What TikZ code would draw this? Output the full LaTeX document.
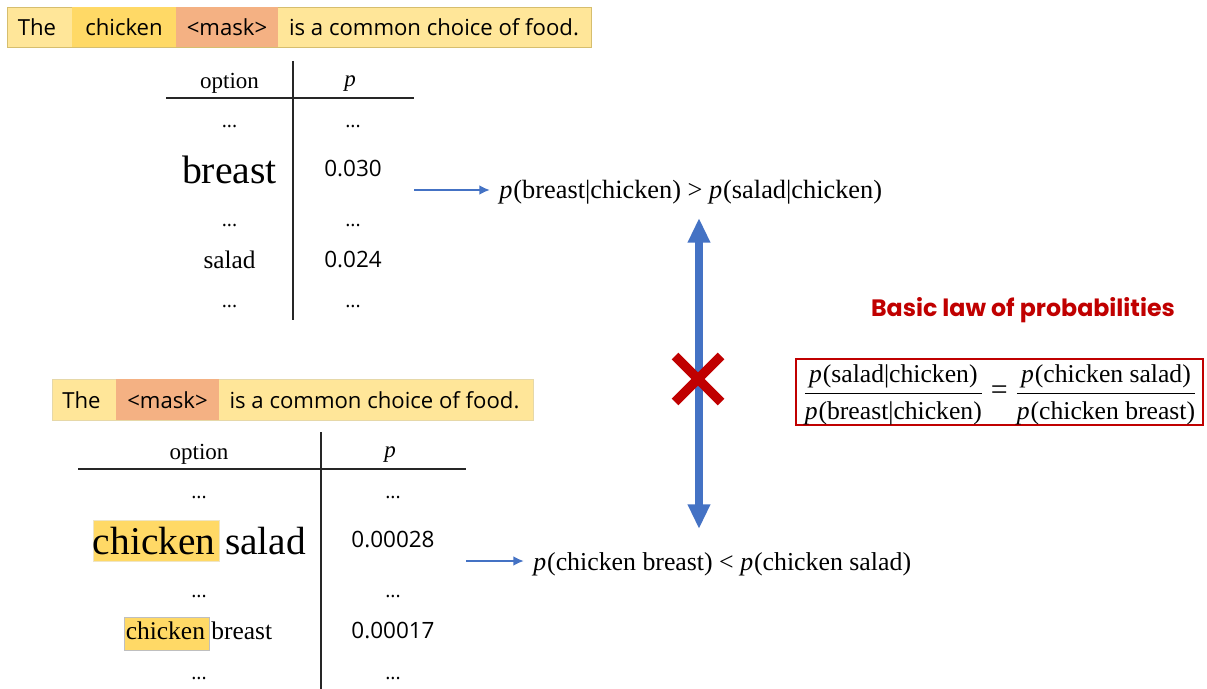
\documentclass[tikz,border=0pt]{standalone}
\usepackage{amsmath}
\usepackage{fontspec}
\setmainfont{Liberation Serif}
\newfontfamily\uifont{Open Sans}
\newfontfamily\lawfont{Poppins}
\usetikzlibrary{arrows.meta}
\definecolor{barlight}{HTML}{FFE699}
\definecolor{baredge}{HTML}{D6BE6E}
\definecolor{chickenfill}{HTML}{FFD966}
\definecolor{maskfill}{HTML}{F4B183}
\definecolor{arrowblue}{HTML}{4472C4}
\definecolor{lawred}{HTML}{C00000}
\newcommand{\psize}[1]{\fontsize{#1}{#1}\selectfont}
\newcommand{\pp}{\textit{p}\kern0.5pt}
\newcommand{\lawfrac}[2]{\genfrac{}{}{0.8pt}{0}{\mbox{#1}}{\mbox{\rule{0pt}{12pt}#2}}}
\tikzset{
  ui/.style={font=\uifont\psize{12.6},inner sep=0pt,text height=9.5pt,text depth=0pt},
  val/.style={font=\uifont\psize{12.8},inner sep=0pt,text height=9.5pt,text depth=0pt},
  opt/.style={font=\psize{#1},inner sep=0pt},
  dots/.style={font=\uifont\psize{11},inner sep=0pt},
  rule/.style={line width=0.75pt,black!85},
  seg/.style={fill=#1,inner sep=0pt,anchor=north west},
  thin arrow/.style={-{Latex[length=6pt,width=5.5pt]},line width=1.4pt,arrowblue},
  prob/.style={font=\psize{#1},inner sep=0pt,anchor=west}
}
\begin{document}
\begin{tikzpicture}[x=0.02cm,y=-0.02cm]
  \useasboundingbox (0,0) rectangle (1207,689);

  % first sentence
  \node (barA) [seg=barlight,draw=baredge,line width=0.5pt,minimum width=11.68cm,minimum height=0.8cm] at (7,7) {};
  \node (chickA) [seg=chickenfill,minimum width=2.08cm,minimum height=0.8cm] at (72,7) {};
  \node (maskA) [seg=maskfill,minimum width=2.04cm,minimum height=0.8cm] at (176,7) {};
  \node (theA) [ui] at (37,27) {The};
  \node (wordA) [ui] at (124,27) {chicken};
  \node (tokA) [ui] at (227,27) {<mask>};
  \node (restA) [ui] at (434,27) {is a common choice of food.};

  % first table
  \draw[rule] (293,61) -- (293,320);
  \draw[rule] (166,98) -- (414,98);
  \node (optA) [opt=13.1] at (229.5,83.5) {option};
  \node (pA) [opt=13.1] at (350.5,84) {\pp};
  \node (dotsA1) [dots] at (229.5,126) {...};
  \node (dotsB1) [dots] at (353,126) {...};
  \node (breastA) [opt=22.6] at (229.5,170) {breast};
  \node (valA1) [val] at (353,168) {0.030};
  \node (dotsA2) [dots] at (229.5,225) {...};
  \node (dotsB2) [dots] at (353,225) {...};
  \node (saladA) [opt=14.4] at (229.5,260) {salad};
  \node (valA2) [val] at (353,259) {0.024};
  \node (dotsA3) [dots] at (229.5,306) {...};
  \node (dotsB3) [dots] at (353,306) {...};

  \coordinate (startA) at (414,190);
  \node (probA) [prob=15] at (499,192) {\pp(breast|chicken) > \pp(salad|chicken)};
  \draw[thin arrow] (startA) -- (490,190);

  % second sentence
  \node (barB) [seg=barlight,draw=baredge!60,line width=0.5pt,minimum width=9.62cm,minimum height=0.82cm] at (52,379) {};
  \node (maskB) [seg=maskfill,minimum width=2.06cm,minimum height=0.82cm] at (116,379) {};
  \node (theB) [ui] at (81.5,400) {The};
  \node (tokB) [ui] at (167.5,400) {<mask>};
  \node (restB) [ui] at (374.5,400) {is a common choice of food.};

  % second table
  \draw[rule] (321,432) -- (321,689);
  \draw[rule] (78,469) -- (466,469);
  \node (optB) [opt=13.1] at (199,454.5) {option};
  \node (pB) [opt=13.1] at (390.5,455) {\pp};
  \node (dotsC1) [dots] at (199,497) {...};
  \node (dotsD1) [dots] at (393,497) {...};
  \node (hlBig) [seg=chickenfill,draw=baredge!40,line width=0.4pt,minimum width=2.52cm,minimum height=0.82cm] at (93,520) {};
  \node (hlSmall) [seg=chickenfill,draw=black!25,line width=0.4pt,minimum width=1.7cm,minimum height=0.66cm] at (124,617) {};
  \node (bigPair) [opt=22.4] at (199.5,541) {chicken salad};
  \node (valB1) [val] at (393,539) {0.00028};
  \node (dotsC2) [dots] at (199,596) {...};
  \node (dotsD2) [dots] at (393,596) {...};
  \node (smallPair) [opt=14.5] at (199,631) {chicken breast};
  \node (valB2) [val] at (393,630) {0.00017};
  \node (dotsC3) [dots] at (199,678) {...};
  \node (dotsD3) [dots] at (393,678) {...};

  \coordinate (startB) at (466,561);
  \node (probB) [prob=14.7] at (533,564) {\pp(chicken breast) < \pp(chicken salad)};
  \draw[thin arrow] (startB) -- (524,561);

  % double arrow and the cross
  \coordinate (arrTop) at (699,218);
  \coordinate (arrBot) at (699,529);
  \draw[arrowblue,line width=4pt,{Triangle[length=14pt,width=12pt]}-{Triangle[length=14pt,width=12pt]}] (arrTop) -- (arrBot);
  \draw[lawred,line width=5.4pt] (675,356) -- (721,402);
  \draw[lawred,line width=5.4pt] (721,356) -- (675,402);

  % the law
  \node (lawTitle) [font=\lawfont\bfseries\psize{13.5},text=lawred,inner sep=0pt] at (1023,310) {Basic law of probabilities};
  \node (lawBox) [draw=lawred,line width=1.1pt,minimum width=8.14cm,minimum height=1.32cm,inner sep=0pt] at (999.5,392) {};
  \node (lawEq) [font=\psize{14.6},inner sep=0pt] at (1000,395)
    {$\displaystyle\lawfrac{\pp(salad|chicken)}{\pp(breast|chicken)}\mathrel{\mbox{\psize{17}=}}\lawfrac{\pp(chicken salad)}{\pp(chicken breast)}$};
\end{tikzpicture}
\end{document}
